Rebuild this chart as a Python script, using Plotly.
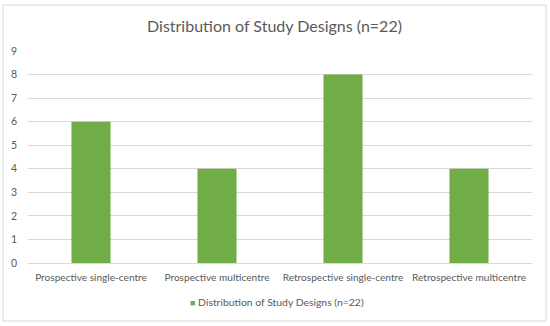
import plotly.graph_objects as go

categories = ["Prospective single-centre", "Prospective multicentre",
              "Retrospective single-centre", "Retrospective multicentre"]
counts = [6, 4, 8, 4]
series_name = "Distribution of Study Designs (n=22)"
title_text = "Distribution of Study Designs (n=22)"
y_ticks = [0, 1, 2, 3, 4, 5, 6, 7, 8, 9]
bar_color = "#70AD47"

FONT = "Lato, Carlito, sans-serif"
TXT = "#595959"

fig = go.Figure()
fig.add_trace(go.Bar(x=categories, y=counts, name=series_name,
                     marker=dict(color=bar_color, line=dict(width=0)),
                     showlegend=False))

W, H = 550, 326
L, R, T, B = 28, 18, 51, 63
pw, ph = W - L - R, H - T - B

fig.update_layout(
    width=W, height=H,
    margin=dict(l=L, r=R, t=T, b=B, pad=0),
    paper_bgcolor="white", plot_bgcolor="white",
    font=dict(family=FONT, size=10, color=TXT),
    bargap=0.69,
    title=dict(text=title_text, x=274.5 / W, xanchor="center", xref="container",
               y=1 - 26 / H, yanchor="middle", yref="container",
               font=dict(family=FONT, size=16, color=TXT)),
    xaxis=dict(showgrid=False, showline=True, linecolor="#d9d9d9", linewidth=1,
               ticks="", tickangle=0, automargin=False, ticklabelstandoff=5,
               tickfont=dict(size=10.1, color=TXT)),
    yaxis=dict(range=[0, 9], tickvals=y_ticks, showgrid=True, gridcolor="#d9d9d9",
               gridwidth=1, zeroline=False, showline=False, ticks="",
               ticklabelstandoff=10, automargin=False,
               tickfont=dict(size=10.5, color=TXT)),
    showlegend=False,
    annotations=[dict(
        text=f"<span style='color:{bar_color};font-size:9px'>■</span> {series_name}",
        xref="paper", yref="paper", x=(277 - L) / pw, xanchor="center",
        y=(H - B - 302) / ph, yanchor="middle", showarrow=False,
        font=dict(family=FONT, size=10.4, color=TXT))],
    shapes=[dict(type="rect", xref="paper", yref="paper",
                 x0=(3 - L) / pw, x1=(546 - L) / pw,
                 y0=(H - B - 321) / ph, y1=(H - B - 5) / ph,
                 line=dict(color="#d9d9d9", width=1), layer="below")],
)

fig.write_html("out.html", config={"displayModeBar": False},
               post_script="document.body.style.margin='0';document.body.style.padding='0';")
